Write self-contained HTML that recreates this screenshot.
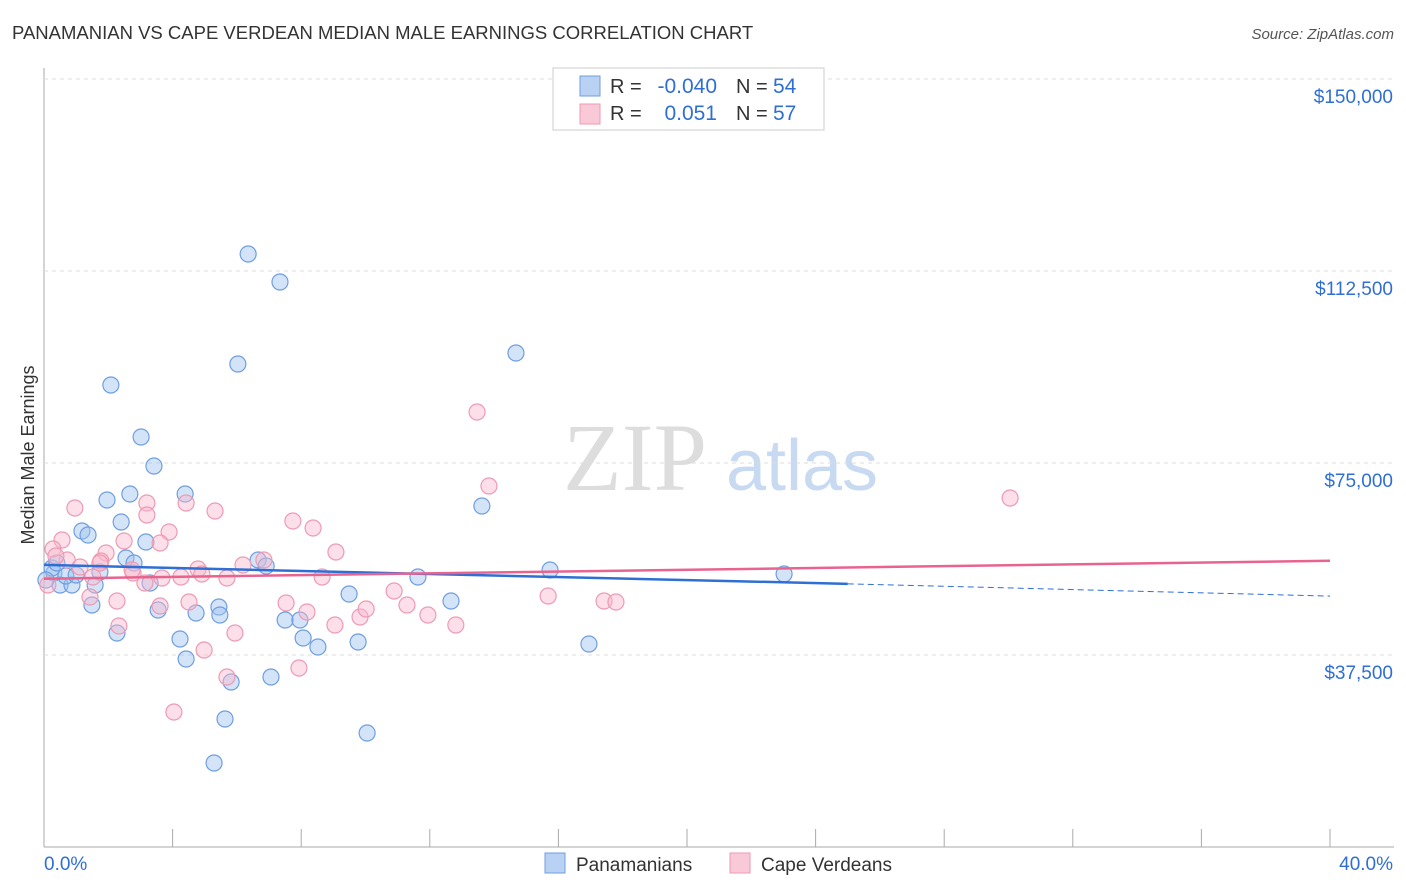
<!DOCTYPE html>
<html><head><meta charset="utf-8"><style>
body{margin:0;background:#fff;font-family:"Liberation Sans",sans-serif}
svg{display:block}
</style></head><body>
<svg id="c" width="1406" height="892">
<text x="12" y="39" font-size="18.5" fill="#333">PANAMANIAN VS CAPE VERDEAN MEDIAN MALE EARNINGS CORRELATION CHART</text>
<text x="1394" y="39" font-size="15" fill="#555" font-style="italic" text-anchor="end">Source: ZipAtlas.com</text>
<text x="34" y="455" font-size="18" fill="#333" text-anchor="middle" transform="rotate(-90 34 455)">Median Male Earnings</text>
<g><text x="635" y="490" font-size="96" font-family="Liberation Serif" fill="#ddd" text-anchor="middle">ZIP</text><text x="802" y="490" font-size="72" fill="#c8daf2" text-anchor="middle">atlas</text></g>
<g id="grid"></g><g id="pts"></g><g id="lines"></g>
<g>
<rect x="553" y="68" width="271" height="62" fill="#fff" stroke="#ccc"/>
<rect x="580" y="76" width="20" height="20" fill="#b9d1f3" stroke="#6f9ee0"/>
<rect x="580" y="104" width="20" height="20" fill="#fac9d8" stroke="#ee9ab3"/>
<text x="610" y="93" font-size="20" fill="#333">R =</text>
<text x="717" y="93" font-size="21" fill="#2f6fd4" text-anchor="end">-0.040</text>
<text x="736" y="93" font-size="20" fill="#333">N =</text>
<text x="773" y="93" font-size="21" fill="#2f6fd4">54</text>
<text x="610" y="120" font-size="20" fill="#333">R =</text>
<text x="717" y="120" font-size="21" fill="#2f6fd4" text-anchor="end">0.051</text>
<text x="736" y="120" font-size="20" fill="#333">N =</text>
<text x="773" y="120" font-size="21" fill="#2f6fd4">57</text>
</g>
<g>
<rect x="545" y="853" width="20" height="20" fill="#b9d1f3" stroke="#6f9ee0"/>
<text x="576" y="871" font-size="19" fill="#333">Panamanians</text>
<rect x="730" y="853" width="20" height="20" fill="#fac9d8" stroke="#ee9ab3"/>
<text x="761" y="871" font-size="19" fill="#333">Cape Verdeans</text>
</g>
</svg>
<script>
const yTicks=[37500,75000,112500,150000];
const yTickLabels=["$37,500","$75,000","$112,500","$150,000"];
const xTicks=[0,4,8,12,16,20,24,28,32,36,40];
const bluePx=[[248,254],[280,282],[238,364],[516,353],[111,385],[141,437],[154,466],[107,500],[130,494],[185,494],[121,522],[82,531],[88,535],[146,542],[126,558],[134,563],[258,560],[266,566],[150,583],[95,585],[482,506],[550,570],[784,574],[418,577],[349,594],[451,601],[158,610],[92,605],[196,613],[219,607],[220,615],[285,620],[300,620],[180,639],[303,638],[318,647],[358,642],[589,644],[117,633],[186,659],[231,682],[271,677],[225,719],[367,733],[214,763],[54,573],[60,585],[72,585],[52,568],[66,576],[100,572],[46,580],[76,575],[57,563]];
const pinkPx=[[477,412],[489,486],[1010,498],[75,508],[147,503],[147,515],[186,503],[215,511],[293,521],[313,528],[62,540],[124,541],[169,532],[106,553],[336,552],[53,549],[67,560],[101,561],[243,565],[198,569],[202,574],[133,573],[162,578],[181,577],[227,578],[264,560],[322,577],[394,591],[407,605],[428,615],[456,625],[548,596],[604,601],[616,602],[90,597],[117,601],[189,602],[160,606],[307,612],[360,617],[366,609],[286,603],[119,626],[235,633],[335,625],[204,650],[299,668],[227,677],[174,712],[56,556],[80,567],[48,585],[100,563],[132,570],[160,543],[145,583],[93,577]];
const blueX=bluePx.map(p=>+((p[0]-44)/1286*40).toFixed(2));
const blueY=bluePx.map(p=>Math.round((847-p[1])/768*150000));
const pinkX=pinkPx.map(p=>+((p[0]-44)/1286*40).toFixed(2));
const pinkY=pinkPx.map(p=>Math.round((847-p[1])/768*150000));
const blueTrend=[[0,55100],[25,51400],[40,49000]];
const pinkTrend=[[0,52400],[40,55900]];
const X=v=>44+v/40*1286, Y=v=>847-v/150000*768;
const NS="http://www.w3.org/2000/svg";
function mk(t,a,p){const e=document.createElementNS(NS,t);for(const k in a)e.setAttribute(k,a[k]);p.appendChild(e);return e;}
const g=document.getElementById('grid');
let ax=mk('line',{x1:44,y1:68,x2:44,y2:847,stroke:'#aaa'},g);

let bx=mk('line',{x1:44,y1:847,x2:1394,y2:847,stroke:'#aaa'},g);

yTicks.forEach((v,i)=>{
 const l=mk('line',{x1:44,x2:1394,y1:Y(v),y2:Y(v),stroke:'#ddd','stroke-dasharray':'4,4'},g);
 
 const t=mk('text',{x:1393,y:Y(v)+24,'font-size':19,fill:'#2f6fd4','text-anchor':'end'},g);t.textContent=yTickLabels[i];
 
});
xTicks.forEach(v=>{const l=mk('line',{x1:X(v),x2:X(v),y1:829,y2:847,stroke:'#aaa'},g);
 });
let t0=mk('text',{x:44,y:870,'font-size':19,fill:'#2f6fd4'},g);t0.textContent='0.0%';

let t1=mk('text',{x:1393,y:870,'font-size':19,fill:'#2f6fd4','text-anchor':'end'},g);t1.textContent='40.0%';

const P=document.getElementById('pts');
blueX.forEach((x,i)=>{const c=mk('circle',{cx:X(x),cy:Y(blueY[i]),r:8,fill:'rgba(160,195,240,0.45)',stroke:'#6f9ee0','stroke-width':1.2},P);
 });
pinkX.forEach((x,i)=>{const c=mk('circle',{cx:X(x),cy:Y(pinkY[i]),r:8,fill:'rgba(248,185,205,0.45)',stroke:'#ee9ab3','stroke-width':1.2},P);
 });
const L=document.getElementById('lines');
let b1=mk('line',{x1:X(blueTrend[0][0]),y1:Y(blueTrend[0][1]),x2:X(blueTrend[1][0]),y2:Y(blueTrend[1][1]),stroke:'#2f6fd4','stroke-width':2.5},L);

let b2=mk('line',{x1:X(blueTrend[1][0]),y1:Y(blueTrend[1][1]),x2:X(blueTrend[2][0]),y2:Y(blueTrend[2][1]),stroke:'#2f6fd4','stroke-width':1,'stroke-dasharray':'6,4'},L);

let p1=mk('line',{x1:X(pinkTrend[0][0]),y1:Y(pinkTrend[0][1]),x2:X(pinkTrend[1][0]),y2:Y(pinkTrend[1][1]),stroke:'#e8648f','stroke-width':2.5},L);

</script>
</body></html>
